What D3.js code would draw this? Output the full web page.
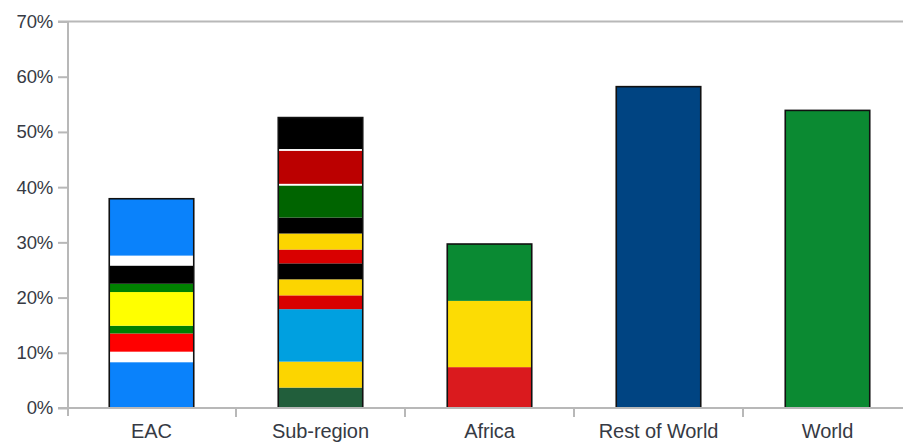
<!DOCTYPE html>
<html>
<head>
<meta charset="utf-8">
<script src="https://cdn.jsdelivr.net/npm/d3@7"></script>
<style>
  html, body { margin: 0; padding: 0; background: #fff; }
  svg { display: block; }
  text { font-family: "Liberation Sans", Arial, sans-serif; fill: #363a44; }
</style>
</head>
<body>
<svg id="chart" width="903" height="443"></svg>
<script>
// Categories along the x axis
const categories = ["EAC", "Sub-region", "Africa", "Rest of World", "World"];

// Stripe heights (percentage points), listed bottom to top for each bar
const eacStripes       = [8.3, 1.9, 3.3, 1.4, 6.1, 1.5, 3.3, 1.8, 10.3];
const subRegionStripes = [3.7, 4.7, 9.5, 2.5, 2.9, 2.9, 2.5, 2.9, 2.9, 5.8, 0.3, 6.0, 0.3, 5.7];
const africaStripes    = [7.4, 12.0, 10.3];
const restOfWorld      = [58.2];
const world            = [53.9];

// Stripe colours, bottom to top
const eacColours = ["#0a82fb", "#ffffff", "#ff0000", "#008000", "#ffff00", "#008000", "#000000", "#ffffff", "#0a82fb"];
const subRegionColours = ["#215e3b", "#fcd500", "#00a0e0", "#d90000", "#fcd500", "#000000", "#d90000", "#fcd500",
                          "#000000", "#006400", "#ffffff", "#bb0000", "#ffffff", "#000000"];
const africaColours = ["#da1a1e", "#fcdc04", "#0a8a33"];
const restOfWorldColours = ["#004482"];
const worldColours = ["#0b8a32"];

// Y axis ticks
const yTicks = [0, 10, 20, 30, 40, 50, 60, 70];

const stripeSets = [eacStripes, subRegionStripes, africaStripes, restOfWorld, world];
const colourSets = [eacColours, subRegionColours, africaColours, restOfWorldColours, worldColours];

const svg = d3.select("#chart");
const gridColour = "#b8b8b8";
const labelColour = "#363a44";

const x = d3.scaleBand()
  .domain(categories)
  .range([67, 912])
  .paddingInner(0.5)
  .paddingOuter(0.25);

const y = d3.scaleLinear()
  .domain([0, 70])
  .range([408, 21.5]);

// Plot frame: top border line at 70%
svg.append("line")
  .attr("x1", 58).attr("x2", 903)
  .attr("y1", y(70)).attr("y2", y(70))
  .attr("stroke", gridColour).attr("stroke-width", 2);

// Bars built from stacked stripes
categories.forEach((cat, i) => {
  const vals = stripeSets[i];
  const cols = colourSets[i];
  const g = svg.append("g");
  const cum = d3.cumsum(vals);
  const segs = vals.map((v, j) => ({ y0: cum[j] - v, y1: cum[j], c: cols[j] }));
  g.selectAll("rect.stripe").data(segs).join("rect")
    .attr("class", "stripe")
    .attr("x", x(cat))
    .attr("width", x.bandwidth())
    .attr("y", d => y(d.y1))
    .attr("height", d => y(d.y0) - y(d.y1))
    .attr("fill", d => d.c);
  const total = d3.sum(vals);
  g.append("rect")
    .attr("x", x(cat))
    .attr("width", x.bandwidth())
    .attr("y", y(total))
    .attr("height", y(0) - y(total))
    .attr("fill", "none")
    .attr("stroke", "#111")
    .attr("stroke-width", 1.6);
});

// Y axis
const yAxis = svg.append("g")
  .attr("transform", "translate(68,0)")
  .call(d3.axisLeft(y).tickValues(yTicks).tickFormat(d => d + "%").tickSize(10).tickPadding(5));
yAxis.select(".domain").remove();
yAxis.selectAll(".tick line").attr("stroke", gridColour).attr("stroke-width", 2);
yAxis.selectAll(".tick text")
  .style("font-size", "18.5px")
  .style("letter-spacing", "-0.2px")
  .attr("fill", labelColour);
yAxis.append("line")
  .attr("x1", 0).attr("x2", 0)
  .attr("y1", y(70)).attr("y2", 416)
  .attr("stroke", gridColour).attr("stroke-width", 2);

// X axis
const xAxis = svg.append("g")
  .attr("transform", "translate(0,408)")
  .call(d3.axisBottom(x).tickSize(0).tickPadding(16));
xAxis.select(".domain").remove();
xAxis.selectAll(".tick text")
  .style("font-size", "20px")
  .style("letter-spacing", "-0.1px")
  .attr("fill", labelColour);
xAxis.append("line")
  .attr("x1", 58).attr("x2", 903)
  .attr("y1", 0).attr("y2", 0)
  .attr("stroke", gridColour).attr("stroke-width", 2);
// Separator ticks between categories
const boundaries = categories.slice(1).map(c => x(c) - x.step() * x.paddingInner() / 2);
xAxis.selectAll("line.sep").data(boundaries).join("line")
  .attr("class", "sep")
  .attr("x1", d => d).attr("x2", d => d)
  .attr("y1", 0).attr("y2", 9)
  .attr("stroke", gridColour).attr("stroke-width", 2);
</script>
</body>
</html>
